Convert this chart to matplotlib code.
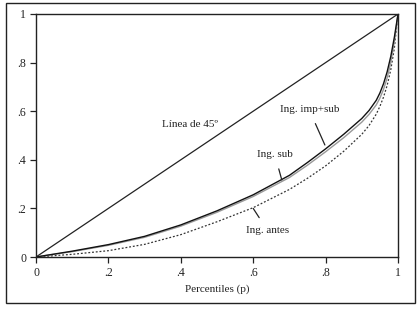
import matplotlib
matplotlib.use("Agg")
import matplotlib.pyplot as plt
from matplotlib.patches import Rectangle

# Data
p = [0, 0.1, 0.2, 0.3, 0.4, 0.5, 0.6, 0.7, 0.75, 0.8, 0.85, 0.9, 0.92, 0.94, 0.95, 0.96, 0.97, 0.98, 0.99, 1.0]
ing_imp_sub = [0, 0.024, 0.051, 0.085, 0.132, 0.19, 0.256, 0.336, 0.389, 0.445, 0.505, 0.57, 0.603, 0.645, 0.675, 0.713, 0.762, 0.825, 0.905, 1.0]
ing_sub = [0, 0.022, 0.048, 0.081, 0.127, 0.184, 0.249, 0.327, 0.378, 0.433, 0.491, 0.555, 0.587, 0.626, 0.654, 0.69, 0.737, 0.8, 0.887, 1.0]
ing_antes = [0, 0.011, 0.026, 0.052, 0.092, 0.145, 0.203, 0.278, 0.324, 0.375, 0.435, 0.505, 0.541, 0.588, 0.62, 0.658, 0.706, 0.77, 0.86, 1.0]
ticks = [0, 0.2, 0.4, 0.6, 0.8, 1.0]
tick_labels = ["0", ".2", ".4", ".6", ".8", "1"]

plt.rcParams['font.family'] = ['Liberation Serif', 'DejaVu Serif']

fig = plt.figure(figsize=(4.19, 3.09), dpi=100)
ax = fig.add_axes([36/419, 1-257/309, (398-36)/419, (257-14)/309])

frame = Rectangle((6/419, 1-303/309), 409/419, 300/309, transform=fig.transFigure,
                  fill=False, edgecolor='#222222', linewidth=1.0)
fig.patches.append(frame)

ax.plot([0, 1], [0, 1], color='#222222', lw=0.9)
ax.plot(p, ing_antes, color='#333333', lw=0.9, linestyle=(0, (1.5, 1.5)))
ax.plot(p, ing_sub, color='#999999', lw=1.0)
ax.plot(p, ing_imp_sub, color='#111111', lw=1.0)

ax.set_xlim(0, 1)
ax.set_ylim(0, 1)
ax.set_xticks(ticks)
ax.set_xticklabels(tick_labels)
ax.set_yticks(ticks)
ax.set_yticklabels(tick_labels)
ax.tick_params(direction='out', length=4, width=0.9, labelsize=8.5, colors='#222222', pad=3)
for s in ax.spines.values():
    s.set_linewidth(1.0)
    s.set_color('#222222')
ax.set_xlabel("Percentiles (p)", fontsize=8, color='#222222', labelpad=4)

fs = 8
ax.text(0.425, 0.547, "Línea de 45º", fontsize=fs, ha='center', va='center', color='#222222')
ax.annotate("Ing. imp+sub", xy=(0.798, 0.461), xytext=(0.755, 0.605), fontsize=fs,
            ha='center', va='center', color='#222222',
            arrowprops=dict(arrowstyle='-', color='#222222', lw=0.9, shrinkA=5, shrinkB=0))
ax.annotate("Ing. sub", xy=(0.679, 0.317), xytext=(0.66, 0.42), fontsize=fs,
            ha='center', va='center', color='#222222',
            arrowprops=dict(arrowstyle='-', color='#222222', lw=0.9, shrinkA=5, shrinkB=0))
ax.annotate("Ing. antes", xy=(0.60, 0.20), xytext=(0.64, 0.108), fontsize=fs,
            ha='center', va='center', color='#222222',
            arrowprops=dict(arrowstyle='-', color='#222222', lw=0.9, shrinkA=5, shrinkB=0))

fig.savefig("out.png", dpi=100)
